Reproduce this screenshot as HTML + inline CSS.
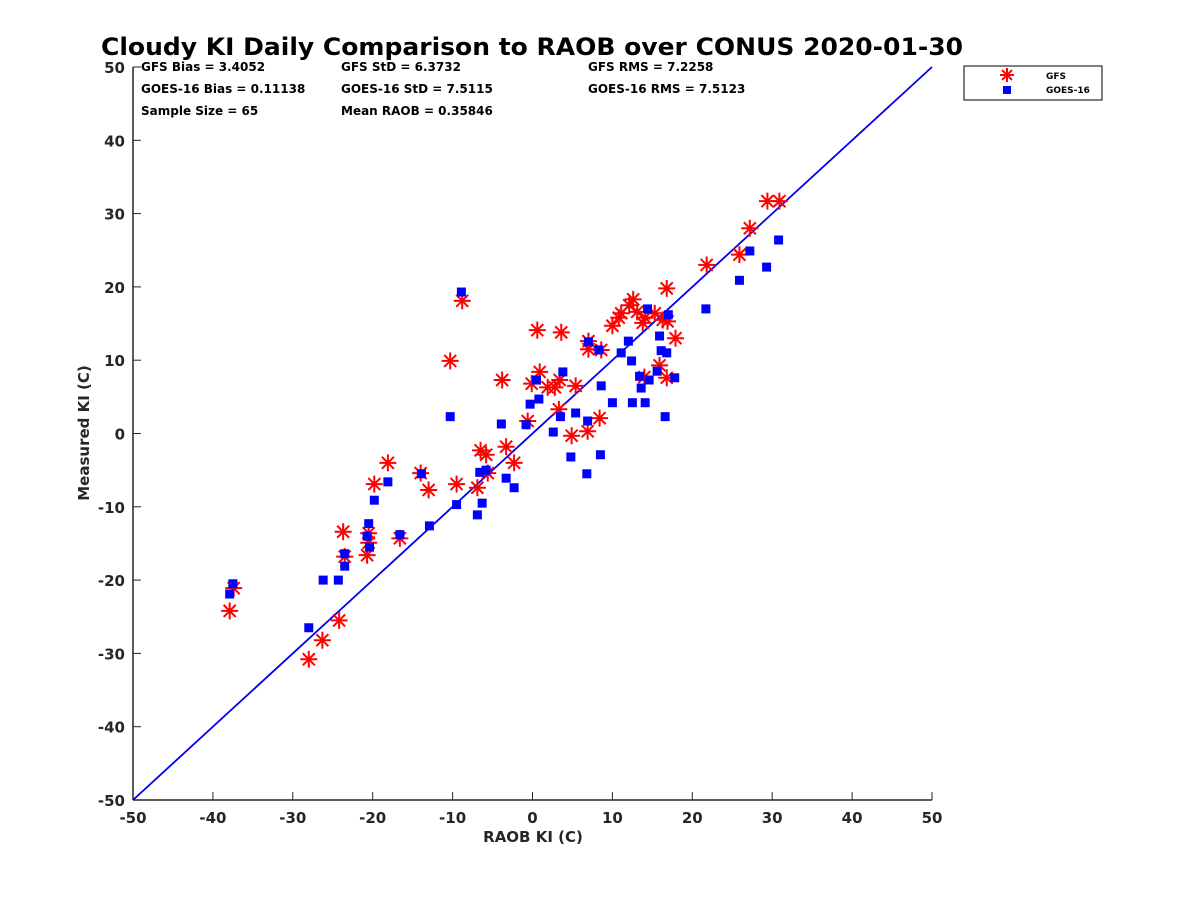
<!DOCTYPE html>
<html><head><meta charset="utf-8"><style>
body{margin:0;background:#fff}
svg text{font-family:"DejaVu Sans","Liberation Sans",sans-serif;font-weight:bold}
</style></head><body>
<svg id="chart" width="1200" height="900" xmlns="http://www.w3.org/2000/svg">
<rect width="1200" height="900" fill="#fff"/>
<text x="532" y="55" font-size="24" text-anchor="middle" textLength="862" lengthAdjust="spacingAndGlyphs" fill="#000">Cloudy KI Daily Comparison to RAOB over CONUS 2020-01-30</text>
<g font-size="12" fill="#000">
<text x="141" y="71">GFS Bias = 3.4052</text>
<text x="341" y="71">GFS StD = 6.3732</text>
<text x="588" y="71">GFS RMS = 7.2258</text>
<text x="141" y="93">GOES-16 Bias = 0.11138</text>
<text x="341" y="93">GOES-16 StD = 7.5115</text>
<text x="588" y="93">GOES-16 RMS = 7.5123</text>
<text x="141" y="115">Sample Size = 65</text>
<text x="341" y="115">Mean RAOB = 0.35846</text>
</g>
<g id="axes"></g>
<g id="marks"></g>
<text x="533" y="842" font-size="15" text-anchor="middle" fill="#262626">RAOB KI (C)</text>
<text x="0" y="0" transform="translate(89,433) rotate(-90)" font-size="15" text-anchor="middle" fill="#262626">Measured KI (C)</text>
<g>
<rect x="964" y="66" width="138" height="34" fill="#fff" stroke="#000" stroke-width="1"/>
<g id="legmarks"></g>
<text x="1046" y="79" font-size="9" fill="#000">GFS</text>
<text x="1046" y="93" font-size="9" fill="#000">GOES-16</text>
</g>
</svg>
<script>
const xTicks=[-50,-40,-30,-20,-10,0,10,20,30,40,50];
const yTicks=[-50,-40,-30,-20,-10,0,10,20,30,40,50];
const gfsX=[-37.9,-37.4,-28.0,-26.3,-24.2,-23.7,-23.5,-20.7,-20.5,-20.5,-19.8,-18.1,-16.6,-14.0,-13.0,-10.3,-9.5,-8.8,-6.9,-6.5,-5.8,-5.6,-3.8,-3.3,-2.3,-0.6,-0.1,0.6,0.9,2.8,3.3,3.6,3.4,4.9,5.4,6.9,7.0,7.0,8.4,8.6,10.0,11.1,12.1,12.6,13.1,13.8,14.1,15.3,15.9,16.3,16.8,16.8,16.9,17.9,21.8,25.9,27.2,29.4,30.9,14.0,10.8,1.9];
const gfsY=[-24.2,-21.1,-30.8,-28.2,-25.5,-13.4,-16.8,-16.6,-14.9,-13.6,-6.9,-4.0,-14.3,-5.4,-7.7,9.9,-6.9,18.1,-7.4,-2.3,-2.9,-5.4,7.3,-1.8,-4.0,1.7,6.8,14.1,8.4,6.3,3.3,13.8,7.3,-0.3,6.5,0.3,11.5,12.6,2.1,11.4,14.7,16.4,17.5,18.3,16.6,15.1,15.8,16.4,9.3,15.5,19.8,7.6,15.3,13.0,23.0,24.4,28.0,31.7,31.7,7.7,15.8,6.3];
const goesX=[-37.9,-37.5,-28.0,-26.2,-24.3,-23.5,-23.5,-20.7,-20.5,-20.4,-19.8,-18.1,-16.6,-13.9,-12.9,-10.3,-9.5,-8.9,-6.9,-6.6,-6.3,-5.8,-3.9,-3.3,-2.3,-0.8,-0.3,0.5,0.8,2.6,3.5,3.8,4.8,5.4,6.8,6.9,7.0,8.3,8.5,8.6,10.0,11.1,12.0,12.4,12.5,13.4,13.6,14.1,14.4,14.6,15.6,15.9,16.1,16.6,16.8,17.0,17.8,21.7,25.9,27.2,29.3,30.8];
const goesY=[-21.9,-20.5,-26.5,-20.0,-20.0,-18.1,-16.4,-14.0,-12.3,-15.5,-9.1,-6.6,-13.8,-5.5,-12.6,2.3,-9.7,19.3,-11.1,-5.3,-9.5,-5.0,1.3,-6.1,-7.4,1.2,4.0,7.3,4.7,0.2,2.3,8.4,-3.2,2.8,-5.5,1.7,12.5,11.4,-2.9,6.5,4.2,11.0,12.6,9.9,4.2,7.8,6.2,4.2,17.0,7.3,8.5,13.3,11.3,2.3,11.0,16.2,7.6,17.0,20.9,24.9,22.7,26.4];
const NS="http://www.w3.org/2000/svg";
const X0=133,X1=932,Y0=800,Y1=67;
function sx(v){return X0+(v+50)/100*(X1-X0);}
function sy(v){return Y0-(v+50)/100*(Y0-Y1);}
function mk(tag,attrs,parent){const e=document.createElementNS(NS,tag);for(const k in attrs)e.setAttribute(k,attrs[k]);parent.appendChild(e);return e;}
const axes=document.getElementById('axes');
const marks=document.getElementById('marks');
const xa=mk('line',{x1:X0,y1:Y0,x2:X1,y2:Y0,stroke:'#262626','stroke-width':1.5},axes);


const ya=mk('line',{x1:X0,y1:Y0,x2:X0,y2:Y1,stroke:'#262626','stroke-width':1.5},axes);


xTicks.forEach(t=>{const x=sx(t);
mk('line',{x1:x,y1:Y0,x2:x,y2:Y0-8,stroke:'#262626','stroke-width':1},axes);
const tx=mk('text',{x:x,y:Y0+23,'font-size':15,'text-anchor':'middle',fill:'#262626'},axes);tx.textContent=t;

});
yTicks.forEach(t=>{const y=sy(t);
mk('line',{x1:X0,y1:y,x2:X0+8,y2:y,stroke:'#262626','stroke-width':1},axes);
const tx=mk('text',{x:X0-8,y:y+6,'font-size':15,'text-anchor':'end',fill:'#262626'},axes);tx.textContent=t;

});
const ref=mk('line',{x1:sx(-50),y1:sy(-50),x2:sx(50),y2:sy(50),stroke:'#0000ee','stroke-width':1.8},marks);


function star(cx,cy,r,p){const g=mk('g',{stroke:'#ff0000','stroke-width':2},p);
for(let a=0;a<4;a++){const ang=a*Math.PI/4;mk('line',{x1:cx-r*Math.cos(ang),y1:cy-r*Math.sin(ang),x2:cx+r*Math.cos(ang),y2:cy+r*Math.sin(ang)},g);}return g;}
gfsX.forEach((v,i)=>{const g=star(sx(v),sy(gfsY[i]),8.5,marks);

});
goesX.forEach((v,i)=>{const r=mk('rect',{x:sx(v)-4.5,y:sy(goesY[i])-4.5,width:9,height:9,fill:'#0000ff'},marks);

});
const lm=document.getElementById('legmarks');
const ls=star(1007,75,7,lm);


const lr=mk('rect',{x:1003,y:86,width:8,height:8,fill:'#0000ff'},lm);


</script>
</body></html>
